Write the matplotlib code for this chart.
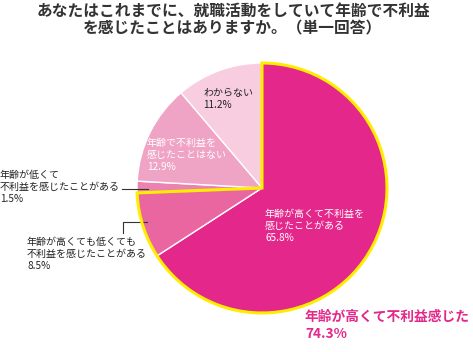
import matplotlib.pyplot as plt
from matplotlib.patches import Wedge

plt.rcParams['font.family'] = ['Noto Sans CJK JP', 'DejaVu Sans']

W, H = 473, 352

title = 'あなたはこれまでに、就職活動をしていて年齢で不利益\nを感じたことはありますか。（単一回答）'
labels = ['年齢が高くて不利益を\n感じたことがある',
          '年齢が高くても低くても\n不利益を感じたことがある',
          '年齢が低くて\n不利益を感じたことがある',
          '年齢で不利益を\n感じたことはない',
          'わからない']
values = [65.8, 8.5, 1.5, 12.9, 11.2]
colors = ['#E4288B', '#EA66A0', '#EC82B0', '#F0A4C5', '#F7CDDF']
total_label = '年齢が高くて不利益感じた'
total_value = values[0] + values[1]

fig = plt.figure(figsize=(W / 100, H / 100), dpi=100)
ax = fig.add_axes([0, 0, 1, 1])

cx, cy, r = 262, H - 188, 125
ax.pie(values, colors=colors, startangle=90, counterclock=False,
       center=(cx, cy), radius=r, frame=True,
       wedgeprops=dict(edgecolor='white', linewidth=1))

# yellow outline round the "felt disadvantage" group
t1 = 90 - 360 * (values[0] + values[1]) / sum(values)
ax.add_patch(Wedge((cx, cy), r, t1, 90, fill=False, edgecolor='#FFEE00', linewidth=2.2, zorder=5))

ax.set_xlim(0, W)
ax.set_ylim(0, H)
ax.set_aspect('equal')
ax.axis('off')

def px(x, y):
    return x, H - y

ax.text(*px(233, 3), title, ha='center', va='top', fontsize=11.3, fontweight='bold',
        color='#333333', linespacing=1.1)

fs = 7.2
ls = 1.22
ax.text(*px(265, 209), labels[0] + '\n%.1f%%' % values[0], ha='left', va='top',
        fontsize=fs, color='white', linespacing=ls)
ax.text(*px(147, 138), labels[3] + '\n%.1f%%' % values[3], ha='left', va='top',
        fontsize=fs, color='white', linespacing=ls)
ax.text(*px(203, 88), labels[4] + '\n%.1f%%' % values[4], ha='left', va='top',
        fontsize=fs, color='#222222', linespacing=ls)
ax.text(*px(0, 170), labels[2] + '\n%.1f%%' % values[2], ha='left', va='top',
        fontsize=fs, color='#222222', linespacing=ls)
ax.text(*px(27, 237), labels[1] + '\n%.1f%%' % values[1], ha='left', va='top',
        fontsize=fs, color='#222222', linespacing=ls)

# leader lines
ax.plot([122, 148], [H - 189, H - 189], color='#333333', lw=0.8)
ax.plot([123, 123, 147], [H - 233, H - 222, H - 222], color='#333333', lw=0.8)

ax.text(*px(305, 310), total_label + '\n%.1f%%' % total_value, ha='left', va='top',
        fontsize=9.9, fontweight='bold', color='#E4288B', linespacing=1.25)

fig.savefig('out.png', dpi=100)
